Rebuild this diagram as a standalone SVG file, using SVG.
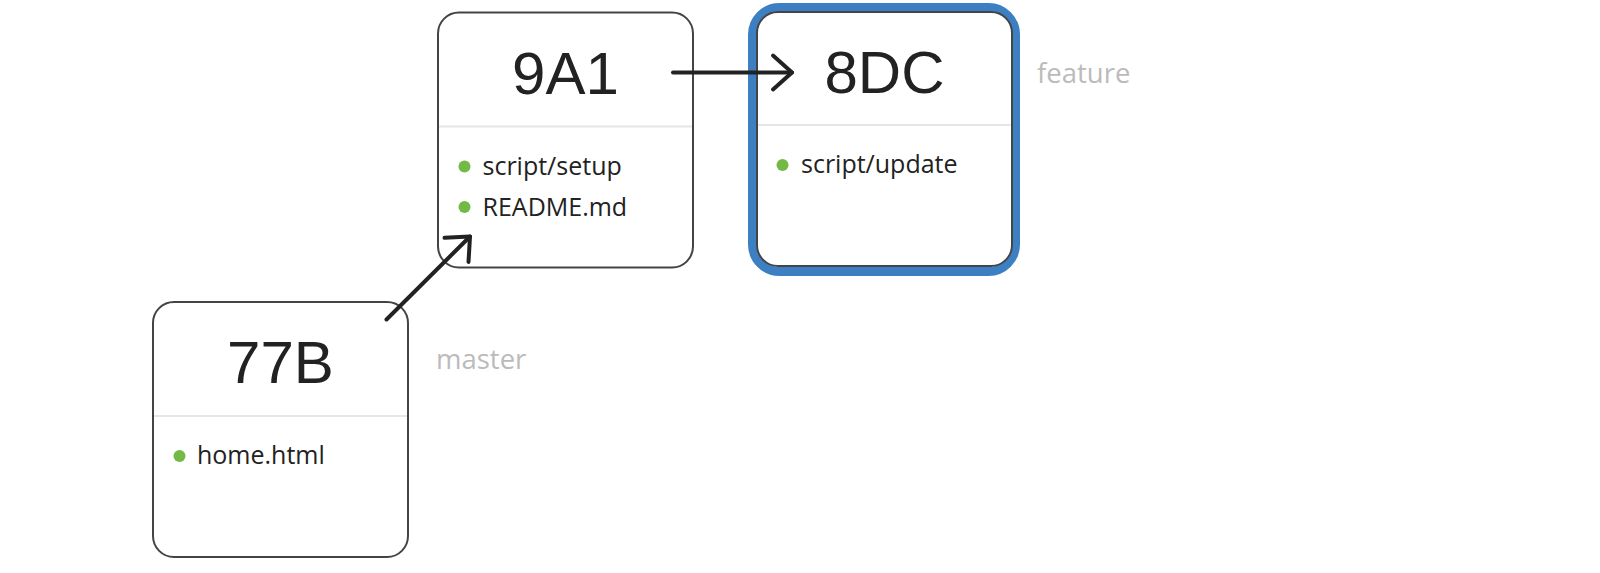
<svg xmlns="http://www.w3.org/2000/svg" width="1600" height="573" viewBox="0 0 1600 573">
  <style>
    .box { fill: #ffffff; stroke: #444444; stroke-width: 2; }
    .div { stroke: #e6e6e6; stroke-width: 2; }
    .sha { font-family: "Liberation Sans", Arial, sans-serif; font-size: 60px; fill: #222222; text-anchor: middle; }
    .file { font-family: "Open Sans", "Noto Sans", sans-serif; font-size: 25px; fill: #222222; }
    .dot { fill: #72b946; }
    .ref { font-family: "Open Sans", "Noto Sans", sans-serif; font-size: 27.5px; fill: #bbbbbb; }
    .edge { stroke: #222222; stroke-width: 4; fill: none; stroke-linecap: round; stroke-linejoin: round; }
  </style>
  <defs>
    <marker id="chev" markerUnits="userSpaceOnUse" viewBox="-30 -30 60 60" markerWidth="60" markerHeight="60" refX="0" refY="0" orient="auto" overflow="visible">
      <path d="M -19 -17 L 0 0 L -19 17" stroke="#222222" stroke-width="4" fill="none" stroke-linecap="round" stroke-linejoin="round"/>
    </marker>
  </defs>
  <rect width="1600" height="573" fill="#ffffff"/>

  <g id="node-77B">
    <rect class="box" x="153" y="302" width="255" height="255" rx="21"/>
    <line class="div" x1="154" y1="416" x2="407" y2="416"/>
    <text class="sha" x="280.5" y="383">77B</text>
    <circle class="dot" cx="179.5" cy="456" r="6"/>
    <text class="file" x="197" y="464">home.html</text>
  </g>

  <g id="node-9A1">
    <rect class="box" x="438" y="12.5" width="255" height="255" rx="21"/>
    <line class="div" x1="439" y1="126.5" x2="692" y2="126.5"/>
    <text class="sha" x="565.5" y="94">9A1</text>
    <circle class="dot" cx="464.5" cy="166.5" r="6"/>
    <text class="file" x="482.5" y="175">script/setup</text>
    <circle class="dot" cx="464.5" cy="207" r="6"/>
    <text class="file" x="482.5" y="216">README.md</text>
  </g>

  <g id="node-8DC">
    <rect x="752.5" y="7.5" width="263" height="264" rx="27" fill="#ffffff" stroke="#3c7fc2" stroke-width="9"/>
    <rect class="box" x="757" y="12" width="255" height="254" rx="21"/>
    <line class="div" x1="758" y1="125" x2="1011" y2="125"/>
    <text class="sha" x="884.5" y="93">8DC</text>
    <circle class="dot" cx="782.5" cy="165" r="6"/>
    <text class="file" x="801" y="173">script/update</text>
  </g>

  <g id="label-master">
    <text class="ref" x="436" y="369">master</text>
  </g>
  <g id="label-feature">
    <text class="ref" x="1037" y="83">feature</text>
  </g>

  <g id="connectors">
    <path class="edge" d="M 386.5 319.5 L 470 236.5" marker-end="url(#chev)"/>
    <path class="edge" d="M 673 72.5 L 792 72.5" marker-end="url(#chev)"/>
  </g>
</svg>
